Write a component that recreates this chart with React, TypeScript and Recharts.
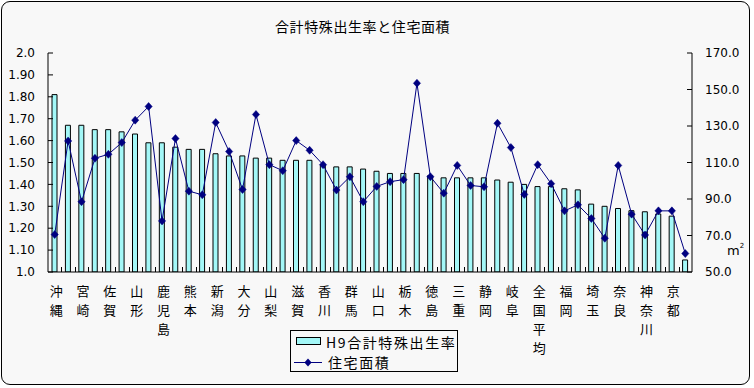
import React from 'react';
import { ComposedChart, Bar, Line, XAxis, YAxis } from 'recharts';

const categories = [
  '沖縄', '島根', '宮崎', '長崎', '佐賀', '福島', '山形', '福井', '鹿児島', '鳥取',
  '熊本', '愛媛', '新潟', '長野', '大分', '岩手', '山梨', '青森', '滋賀', '石川',
  '香川', '高知', '群馬', '広島', '山口', '和歌山', '栃木', '富山', '徳島', '岡山',
  '三重', '茨城', '静岡', '秋田', '岐阜', '愛知', '全国平均', '宮城', '福岡', '兵庫',
  '埼玉', '大阪', '奈良', '千葉', '神奈川', '北海道', '京都', '東京',
];

const fertilityRate = [
  1.81, 1.67, 1.67, 1.65, 1.65, 1.64, 1.63, 1.59, 1.59, 1.57,
  1.56, 1.56, 1.54, 1.53, 1.53, 1.52, 1.52, 1.51, 1.51, 1.51,
  1.49, 1.48, 1.48, 1.47, 1.46, 1.45, 1.45, 1.45, 1.44, 1.43,
  1.43, 1.43, 1.43, 1.42, 1.41, 1.40, 1.39, 1.39, 1.38, 1.375,
  1.31, 1.30, 1.29, 1.28, 1.275, 1.265, 1.255, 1.055,
];

const housingArea = [
  70.5, 121.8, 88.5, 112.3, 114.5, 120.9, 133.2, 140.7, 78.0, 123.1,
  94.3, 92.3, 131.9, 116.0, 95.2, 136.3, 108.8, 105.5, 122.0, 116.7,
  108.8, 94.9, 102.2, 88.5, 96.9, 99.5, 100.6, 153.4, 102.2, 93.2,
  108.4, 97.4, 96.7, 131.5, 118.2, 92.5, 108.8, 98.4, 83.5, 86.8,
  79.3, 68.5, 108.4, 81.7, 70.3, 83.5, 83.5, 60.1,
];

const leftTicks = [1.0, 1.1, 1.2, 1.3, 1.4, 1.5, 1.6, 1.7, 1.8, 1.9, 2.0];
const rightTicks = [50, 70, 90, 110, 130, 150, 170];

const seriesNames = ['H9合計特殊出生率', '住宅面積'];
const title = '合計特殊出生率と住宅面積';

const data = categories.map((name, i) => ({
  name,
  rate: fertilityRate[i],
  area: housingArea[i],
}));

const W = 754;
const H = 388;
const LEFT_W = 48;
const RIGHT_W = 62;
const PLOT_W = W - LEFT_W - RIGHT_W;
const BAR_FILL = '#a3f7f7';
const LINE_COLOR = '#000080';
const BG = '#f8f8f8';
const CJK = '"Noto Sans CJK JP", sans-serif';
const NUMF = '"DejaVu Sans", sans-serif';

const XTick = (props: any) => {
  const { x, y, payload, index } = props;
  const bw = PLOT_W / categories.length;
  const lx = Math.round(x - bw / 2) + 0.5;
  const chars = Array.from(String(payload.value));
  return (
    <g>
      {index > 0 && <line x1={lx} x2={lx} y1={y} y2={y - 5} stroke="#000" strokeWidth={1} />}
      {index % 2 === 0 &&
        chars.map((c, i) => (
          <text
            key={i}
            x={x + 1.5}
            y={y + 24 + i * 19}
            textAnchor="middle"
            fontFamily={CJK}
            fontSize={13}
            fill="#000"
          >
            {c}
          </text>
        ))}
    </g>
  );
};

const Diamond = (props: any) => {
  const { cx, cy, index } = props;
  if (cx == null || cy == null) return <g key={index} />;
  return (
    <path
      key={index}
      d={`M${cx},${cy - 4} L${cx + 3.6},${cy} L${cx},${cy + 4} L${cx - 3.6},${cy} Z`}
      fill={LINE_COLOR}
      stroke={LINE_COLOR}
      strokeWidth={0.5}
    />
  );
};

const fmtLeft = (v: number) => (v === 1 || v === 2 ? v.toFixed(1) : v.toFixed(2));
const fmtRight = (v: number) => v.toFixed(1);

export default function App() {
  return (
    <div style={{ position: 'absolute', left: 0, top: 0, width: W, height: H, background: '#fff' }}>
      <div
        style={{
          position: 'absolute', left: 1, top: 1, width: 749, height: 384,
          boxSizing: 'border-box', border: '1px solid #000', borderRadius: 9, background: BG,
        }}
      />
      <div style={{ position: 'absolute', left: 0, top: 0 }}>
        <ComposedChart
          width={W}
          height={H}
          data={data}
          margin={{ top: 53, right: 0, bottom: 0, left: 0 }}
          barCategoryGap={0}
        >
          <XAxis
            dataKey="name"
            interval={0}
            height={116}
            tickLine={false}
            tickSize={0}
            tickMargin={0}
            axisLine={{ stroke: '#000' }}
            tick={<XTick />}
          />
          <YAxis
            yAxisId="left"
            orientation="left"
            width={LEFT_W}
            domain={[1, 2]}
            ticks={leftTicks}
            tickFormatter={fmtLeft}
            tickSize={-5}
            tickMargin={18}
            axisLine={{ stroke: '#000' }}
            tickLine={{ stroke: '#000' }}
            tick={{ fill: '#000', fontSize: 12, fontFamily: NUMF }}
            allowDataOverflow
          />
          <YAxis
            yAxisId="right"
            orientation="right"
            width={RIGHT_W}
            domain={[50, 170]}
            ticks={rightTicks}
            tickFormatter={fmtRight}
            tickSize={-5}
            tickMargin={18}
            axisLine={{ stroke: '#000' }}
            tickLine={{ stroke: '#000' }}
            tick={{ fill: '#000', fontSize: 12, fontFamily: NUMF }}
            allowDataOverflow
          />
          <Bar
            yAxisId="left"
            dataKey="rate"
            name={seriesNames[0]}
            fill={BAR_FILL}
            stroke="#000"
            strokeWidth={1}
            barSize={5}
            isAnimationActive={false}
          />
          <Line
            yAxisId="right"
            dataKey="area"
            name={seriesNames[1]}
            stroke={LINE_COLOR}
            strokeWidth={1}
            type="linear"
            dot={<Diamond />}
            activeDot={false}
            isAnimationActive={false}
          />
        </ComposedChart>
      </div>
      <div
        style={{
          position: 'absolute', left: 275, top: 19, lineHeight: '15px', fontSize: 14,
          fontFamily: CJK, letterSpacing: 0.6, color: '#000', whiteSpace: 'nowrap',
        }}
      >
        {title}
      </div>
      <div
        style={{
          position: 'absolute', left: 727, top: 243, fontSize: 13, fontFamily: NUMF,
          color: '#000', lineHeight: '15px',
        }}
      >
        m<sup style={{ fontSize: 7, verticalAlign: 'top', lineHeight: '7px' }}>2</sup>
      </div>
      <div
        style={{
          position: 'absolute', left: 290, top: 330, width: 168, height: 42,
          boxSizing: 'border-box', border: '1px solid #000', background: BG,
        }}
      >
        <svg width={34} height={40} style={{ position: 'absolute', left: 0, top: 0 }}>
          <rect x={5.5} y={6.5} width={24} height={7} fill={BAR_FILL} stroke="#000" strokeWidth={1} />
          <line x1={3} x2={31} y1={31.5} y2={31.5} stroke={LINE_COLOR} strokeWidth={1} />
          <path d="M17,27.5 L20.6,31.5 L17,35.5 L13.4,31.5 Z" fill={LINE_COLOR} />
        </svg>
        <div
          style={{
            position: 'absolute', left: 35, top: 2, fontSize: 14, fontFamily: CJK,
            lineHeight: '18px', letterSpacing: 1.6, whiteSpace: 'nowrap', color: '#000',
          }}
        >
          {seriesNames[0]}
        </div>
        <div
          style={{
            position: 'absolute', left: 37, top: 22, fontSize: 14, fontFamily: CJK,
            lineHeight: '18px', letterSpacing: 1.6, whiteSpace: 'nowrap', color: '#000',
          }}
        >
          {seriesNames[1]}
        </div>
      </div>
    </div>
  );
}
